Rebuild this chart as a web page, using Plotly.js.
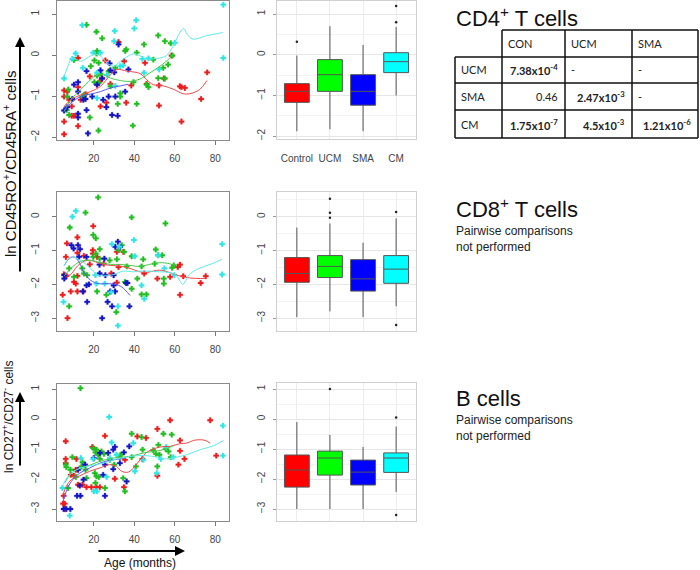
<!DOCTYPE html>
<html>
<head>
<meta charset="utf-8">
<script src="https://cdn.plot.ly/plotly-3.0.1.min.js"></script>
<style>
  html, body { margin: 0; padding: 0; background: #fff; }
  #chart { width: 700px; height: 570px; }
</style>
</head>
<body>
<div id="chart"></div>
<script>
// groups, in the order used everywhere below
var groupNames = ["Control", "UCM", "SMA", "CM"];
var dotColors = ["#ee1c1c", "#1fbf1f", "#1414c8", "#2ee6e6"];
var fitColors = ["#f04848", "#48c848", "#5a5aee", "#60eaea"];
var boxColors = ["#ff0000", "#00ff00", "#0000ff", "#00ffff"];

// ---- CD4+ T cells : age (months) vs ln ratio
var cd4ControlAge = [5.3,5.3,5.3,5.3,6.9,7.8,9.1,9.1,10.2,12.2,12.2,12.2,13.5,15.9,18,21.6,22.9,23.3,24.1,25.7,26.2,28.2,32.2,35,36,38.5,45.3,46.1,52.2,52.2,54.6,58.4,62.5,63.3,63.3,65,73,76];
var cd4ControlVal = [-1.01,-0.86,-1.62,-1.93,-0.89,-1.09,-1.25,-1.48,-1.48,-1.73,-0.78,-0.07,-1.09,-0.95,-0.52,-0.72,-0.64,-1.25,-0.56,-0.13,-1.16,-0.7,0.32,-0.15,-1.16,-0.74,-0.19,-0.7,-0.74,-1.23,-0.57,-0.01,-0.76,-0.78,-1.62,-0.8,-1.07,-0.42];
var cd4UcmAge = [16.4,21.3,24.1,21.6,21.3,20.3,22.4,27.3,23.3,21.6,18.5,20.3,22.4,15.1,14.3,18,22.3,28.2,33.1,35.5,36,41.2,41.2,39.3,39.6,44.8,46.1,47,49.4,51.8,51.8,54.3,55.1,55.1,58,58.9,56.7,31.8,33.1,7.4,6.9,6.6,7.8,10.2,30.6];
var cd4UcmVal = [0.74,0.57,0.41,0.1,0.04,-0.13,-0.19,-0.39,-0.45,-0.5,-0.27,-0.66,-0.68,-0.97,-1.01,-1.52,-1.84,-0.76,-0.93,0.1,0.14,0.06,-1.19,-1.72,-0.66,0.26,-0.72,-0.78,-0.11,0.48,-0.56,-0.31,0.34,-0.57,0.29,-0.01,-0.23,-1.19,-1.01,-0.84,-1.01,-1.34,-1.46,-0.12,-0.31];
var cd4SmaAge = [5.3,6.9,9.4,10.2,12.2,12.2,12.2,12.2,14.8,15.9,16.4,16.4,17.1,19.2,21.6,23.3,24.1,24.6,26.2,27.8,28.2,29,30.1,31.8,32.2,27.3,30.6,37.1,35.5];
var cd4SmaVal = [-1.35,-1.27,-1.07,-0.72,-0.66,-0.89,-1.43,-1.52,-1.09,-1.07,-0.39,-1.34,-1.91,-1.01,-0.72,-0.37,-0.57,-1.09,-1.27,-0.2,-0.37,-1.46,-0.42,-1.48,0.26,-1.01,-1.01,-0.35,-0.89];
var cd4CmAge = [84,84,14.3,30,40.9,40,5.3,11,9.4,14.6,19.7,21.6,30.3,26.5,21.6,30.6,33,44,44.8,52.3,60,23.3,34.5,47];
var cd4CmVal = [1.23,-0.07,0.73,0.34,0.85,0.65,-0.57,0.04,-0.09,-0.31,0.06,-0.43,0.59,-0.48,-1.05,-0.75,-0.27,-0.09,-0.43,-0.35,0.3,0.06,-0.25,-0.08];

// smoothed curves
var cd4ControlFitAge = [5.3,8.6,13.5,18.4,23.3,28.2,31.4,36.3,42.9,46.1,49.4,54.3,59.2,64.1,67.4,72.3,75.9];
var cd4ControlFitVal = [-1.25,-1.09,-0.97,-0.89,-0.76,-0.48,-0.35,-0.39,-0.45,-0.6,-0.72,-0.75,-0.83,-0.94,-0.94,-0.84,-0.62];
var cd4UcmFitAge = [5.3,8.6,13.5,18.4,21.6,24.9,28.2,33.1,38,42.9,47.8,52.7,57.6,59.2];
var cd4UcmFitVal = [-1.38,-1.09,-0.84,-0.6,-0.48,-0.48,-0.56,-0.62,-0.64,-0.58,-0.43,-0.27,-0.07,0.02];
var cd4SmaFitAge = [5.3,8.6,13.5,18.4,23.3,28.2,33.1,37.1];
var cd4SmaFitVal = [-1.34,-1.17,-1.01,-0.95,-0.89,-0.8,-0.75,-0.71];
var cd4CmFitAge = [5.3,6.9,9.4,13.5,16.7,20,23.3,26.5,29.8,33.1,36.3,39.6,42.9,46.1,49.4,52.7,55.9,59.2,62.5,64.4,66.1,69,75.5,83.7];
var cd4CmFitVal = [-0.52,-0.31,-0.07,-0.15,-0.07,0.02,-0.02,-0.19,-0.27,-0.15,-0.04,0.03,-0.02,-0.11,-0.09,-0.07,-0.01,0.22,0.55,0.65,0.51,0.39,0.47,0.55];

// box statistics, in group order
var cd4Q1 = [-1.17, -0.9, -1.24, -0.44];
var cd4Median = [-0.9, -0.49, -0.9, -0.17];
var cd4Q3 = [-0.71, -0.12, -0.49, 0.05];
var cd4Lower = [-1.88, -1.83, -1.88, -1.0];
var cd4Upper = [-0.02, 0.7, 0.24, 0.68];
var cd4OutGroup = ["Control", "CM", "CM"];
var cd4OutVal = [0.32, 0.8, 1.2];

// ---- CD8+ T cells
var cd8ControlAge = [19.7,11.9,6.7,6.2,11.9,15.1,19.5,19.5,21.6,24.9,31.4,34.6,32.2,31.4,18,5.4,6.5,10.2,11.1,11.9,4.6,8.6,11.9,14.8,7,28.6,44.9,51.4,57.7,61.5,62.6,62.6,64.2,72.8,75.3];
var cd8ControlVal = [-0.28,-0.61,-0.79,-1.19,-1.07,-1.16,-0.99,-1.09,-1.19,-1.39,-1.04,-1.04,-1.49,-1.95,-1.41,-1.71,-1.75,-1.93,-1.98,-1.75,-2.31,-2.21,-2.21,-2.21,-3,-1.68,-1.68,-1.83,-1.78,-1.49,-1.42,-2.31,-1.76,-1.96,-1.76];
var cd8UcmAge = [22.1,15.9,8.1,38.7,55.4,19.7,21,22.9,19.7,21,22.9,27.8,31.4,33.8,35,32.2,38.7,36.3,44.4,43.6,50.6,51.8,53.8,50.1,54.6,54.6,58.7,59.5,41.5,38.7,43.6,46,14.3,16.7,15.1,7.8,10.2,7.8,21.6,26.2,31.1,35.4];
var cd8UcmVal = [0.57,0.12,-0.32,-0.02,-0.2,-0.54,-0.64,-0.96,-1.19,-1.09,-1.24,-1.29,-1.26,-0.84,-1.04,-0.99,-1.17,-1.47,-1.26,-1.47,-0.97,-1.14,-1.14,-1.39,-1.83,-1.98,-1.51,-1.44,-1.83,-2.13,-2.3,-2.3,-1.53,-1.73,-1.68,-1.53,-1.78,-2.65,-2.21,-2.31,-2.82,-1.93];
var cd8SmaAge = [31.9,30.6,33,8.9,10,12.2,13.2,16.4,12.7,22.8,25.2,22.9,25.7,29.8,5.4,5.4,16.4,17.6,14.6,30.5,28.1,29.8,35.9,36.6,16.7,26.8,29,37.6,24.1];
var cd8SmaVal = [-0.74,-0.89,-0.89,-0.84,-0.94,-0.84,-0.96,-1.19,-1.19,-1.42,-1.24,-1.68,-1.73,-1.73,-1.73,-1.83,-2.03,-2,-2.21,-2.21,-2.21,-2.03,-1.96,-1.96,-2.52,-2.52,-2.65,-2.65,-3];
var cd8CmAge = [11.1,9.4,83.4,83.4,5,28.9,32.7,39.8,40.3,20.8,25.4,21.3,28.6,31.9,31.9,43.6,44.9,51.7,54.9,59.8];
var cd8CmVal = [0.17,0,-0.81,-1.71,-2.52,-0.81,-0.89,-0.69,-1.17,-1.73,-1.98,-1.98,-2.23,-2.65,-3.22,-2.03,-2.43,-1.14,-1.53,-1.73];

var cd8ControlFitAge = [4.6,7.8,11.9,15.1,18.4,23.3,28.1,33,37.9,42.8,46,49.3,52.5,57.4,62.3,67.2,75.3];
var cd8ControlFitVal = [-1.61,-1.73,-1.46,-1.32,-1.29,-1.39,-1.44,-1.46,-1.53,-1.63,-1.65,-1.61,-1.58,-1.65,-1.75,-1.81,-1.83];
var cd8UcmFitAge = [5.4,8.6,13.5,18.4,23.3,28.1,33,37.9,42.8,47.6,52.5,57.4,59.8];
var cd8UcmFitVal = [-1.75,-1.53,-1.32,-1.29,-1.36,-1.41,-1.41,-1.44,-1.47,-1.41,-1.36,-1.39,-1.44];
var cd8SmaFitAge = [5.4,7.8,10.2,12.7,15.1,18.4,22.4,26.5,30.6,33.8,37.9];
var cd8SmaFitVal = [-1.44,-1.24,-1.19,-1.34,-1.65,-1.88,-1.98,-1.98,-2,-2.08,-2.33];
var cd8CmFitAge = [5.4,8.6,11.9,15.1,18.4,21.6,24.9,29.8,34.6,39.5,42.8,47.6,52.5,57.4,60.7,62.3,63.9,65.5,67.2,72,78.5,83.4];
var cd8CmFitVal = [-1.44,-1.19,-1.24,-1.36,-1.53,-1.71,-1.75,-1.71,-1.61,-1.63,-1.61,-1.61,-1.63,-1.65,-1.73,-1.88,-2,-1.88,-1.71,-1.53,-1.39,-1.26];

var cd8Q1 = [-1.94, -1.8, -2.2, -1.97];
var cd8Median = [-1.68, -1.47, -1.84, -1.55];
var cd8Q3 = [-1.21, -1.15, -1.27, -1.15];
var cd8Lower = [-2.97, -2.8, -2.97, -2.65];
var cd8Upper = [-0.32, -0.2, -0.77, -0.05];
var cd8OutGroup = ["UCM", "UCM", "UCM", "CM", "CM"];
var cd8OutVal = [0.53, 0.12, -0.03, 0.14, -3.2];

// ---- B cells
var bControlAge = [6.1,6.1,6.1,5.1,4.8,5.6,5.6,11.4,11.1,8.6,10.1,12.2,14.4,16.4,18.8,21.3,23,19.3,25.5,30.4,34.9,35.4,41.5,45.8,44,51.4,51.4,57.7,62.6,62.6,64.8,61.8,77.5,80.5];
var bControlVal = [-0.74,-1.33,-1.47,-2.56,-2.82,-2.82,-3,-1.33,-1.69,-1.86,-1.89,-2.19,-2.19,-2.27,-2.27,-2.27,-2.27,-0.93,-0.56,-1.99,-2.27,-1.36,-0.58,-0.63,-1.33,-0.33,-1.89,-0.04,-0.71,-1.06,-1.33,-1.52,-0.04,-1.22];
var bUcmAge = [13.4,9.4,6.1,6.4,8.4,7.3,14.4,13.9,15.9,16.4,19.7,20.8,21.3,22.1,23,20.5,20.8,21.3,22.5,23.8,25,25.5,27.9,30.1,32.9,33.2,34.5,35.4,38.7,38.7,40.8,43.6,44.1,49.4,50.7,51.9,52.4,54.4,55.5,56.9,58.5,58,51.4,11.1];
var bUcmVal = [1.03,-1.27,-1.52,-1.6,-1.69,-2.3,-1.44,-1.58,-1.69,-1.97,-0.97,-1.11,-1.02,-1.19,-1.33,-1.8,-2.13,-1.91,-1.93,-1.08,-1.16,-2.3,-1.36,-1.52,-1.27,-1.19,-1.97,-2.41,-0.49,-1.27,-1.58,-0.6,-1.02,-1.04,-1.16,-0.86,-1.19,-0.49,-1,-1.08,-0.52,-1.27,-1.58,-1.93];
var bSmaAge = [5.1,6.4,8.4,11.7,13.4,12.2,13.1,14.9,15.7,23,24.6,25.5,27.1,29.6,29.6,30.4,32.9,34.9,36.2,37.5,25.5,20];
var bSmaVal = [-3,-3,-3,-2.56,-2.56,-1.69,-2.22,-2.02,-1.52,-1.13,-1.86,-1.52,-1.13,-1.67,-1.02,-0.93,-1.47,-1.11,-2.08,-0.91,-2.56,-1.3];
var bCmAge = [27.6,83.8,83.8,4.5,8.1,13.6,19.7,20,26.3,28.8,27.9,31.2,39.5,40.3,44.5,51.1,55.7,59.3,53.1,21.5];
var bCmVal = [0.07,-0.22,-1.22,-2.3,-3.22,-1.3,-1.33,-2.41,-1.93,-0.78,-1.3,-1.19,-0.8,-1.74,-1.36,-1.8,-0.93,-1.27,-1.33,-2.41];

var bControlFitAge = [4.8,6.4,8.9,13.1,18,23,27.9,31.2,33.7,37,40.3,42.8,46.1,49.4,52.7,57.7,62.6,66,69.3,72.6,75,77.5];
var bControlFitVal = [-2.52,-2.24,-2.02,-1.89,-1.74,-1.63,-1.52,-1.58,-1.74,-1.77,-1.58,-1.36,-1.11,-1,-0.93,-0.91,-0.82,-0.8,-0.71,-0.69,-0.71,-0.8];
var bUcmFitAge = [5.6,8.1,11.4,16.4,23,29.6,34.5,39.5,44.5,49.4,54.4,59.3];
var bUcmFitVal = [-2.13,-1.86,-1.69,-1.58,-1.41,-1.3,-1.27,-1.22,-1.13,-1.08,-1.02,-0.89];
var bSmaFitAge = [4.8,6.4,8.9,13.1,18,23,27.9,32.9,35.4];
var bSmaFitVal = [-2.74,-2.41,-2.08,-1.8,-1.63,-1.47,-1.38,-1.33,-1.3];
var bCmFitAge = [4.8,7.3,11.4,16.4,21.3,26.3,31.2,36.2,41.2,46.1,51.1,56,61,65.9,72.6,79.2,84.1];
var bCmFitVal = [-2.19,-1.91,-1.69,-1.58,-1.52,-1.44,-1.33,-1.27,-1.22,-1.22,-1.27,-1.33,-1.27,-1.19,-1.02,-0.89,-0.71];

var bQ1 = [-2.27, -1.87, -2.2, -1.78];
var bMedian = [-1.7, -1.3, -1.77, -1.3];
var bQ3 = [-1.2, -1.07, -1.37, -1.13];
var bLower = [-3, -3, -3, -2.43];
var bUpper = [-0.1, -0.53, -0.93, -0.25];
var bOutGroup = ["UCM", "CM", "CM"];
var bOutVal = [1.0, 0.05, -3.2];

// ---- pairwise p values (CD4 only)
var tableCols = ["CON", "UCM", "SMA"];
var tableRows = ["UCM", "SMA", "CM"];
var pValues = [
  ["7.38x10<sup>-4</sup>", "-", "-"],
  ["0.46", "2.47x10<sup>-3</sup>", "-"],
  ["1.75x10<sup>-7</sup>", "4.5x10<sup>-3</sup>", "1.21x10<sup>-6</sup>"]
];
var pBold = [[true, false, false], [false, true, false], [true, true, true]];


var W = 700, H = 570;
function px(x) { return x / W; }
function py(y) { return 1 - y / H; }

var traces = [];

function addScatter(n, ages, vals, fitAges, fitVals) {
  for (var g = 0; g < 4; g++) {
    traces.push({
      type: "scatter", mode: "markers", x: ages[g], y: vals[g],
      xaxis: "x" + n, yaxis: "y" + n,
      marker: { symbol: "cross", size: 4.5, color: dotColors[g], line: { width: 0.3, color: dotColors[g] } },
      hoverinfo: "skip"
    });
  }
  for (var g = 0; g < 4; g++) {
    traces.push({
      type: "scatter", mode: "lines", x: fitAges[g], y: fitVals[g],
      xaxis: "x" + n, yaxis: "y" + n,
      line: { color: fitColors[g], width: 1, shape: "spline" },
      hoverinfo: "skip"
    });
  }
}

function addBoxes(n, q1, med, q3, lo, hi, outGroup, outVal) {
  for (var g = 0; g < 4; g++) {
    traces.push({
      type: "box", x: [groupNames[g]],
      q1: [q1[g]], median: [med[g]], q3: [q3[g]],
      lowerfence: [lo[g]], upperfence: [hi[g]],
      xaxis: "x" + n, yaxis: "y" + n,
      fillcolor: boxColors[g], line: { color: "#555", width: 1 },
      width: 0.75, whiskerwidth: 0, hoverinfo: "skip"
    });
  }
  traces.push({
    type: "scatter", mode: "markers", x: outGroup, y: outVal,
    xaxis: "x" + n, yaxis: "y" + n,
    marker: { size: 2.5, color: "#222" }, hoverinfo: "skip"
  });
}

addScatter("", [cd4ControlAge, cd4UcmAge, cd4SmaAge, cd4CmAge], [cd4ControlVal, cd4UcmVal, cd4SmaVal, cd4CmVal],
  [cd4ControlFitAge, cd4UcmFitAge, cd4SmaFitAge, cd4CmFitAge], [cd4ControlFitVal, cd4UcmFitVal, cd4SmaFitVal, cd4CmFitVal]);
addBoxes("2", cd4Q1, cd4Median, cd4Q3, cd4Lower, cd4Upper, cd4OutGroup, cd4OutVal);
addScatter("3", [cd8ControlAge, cd8UcmAge, cd8SmaAge, cd8CmAge], [cd8ControlVal, cd8UcmVal, cd8SmaVal, cd8CmVal],
  [cd8ControlFitAge, cd8UcmFitAge, cd8SmaFitAge, cd8CmFitAge], [cd8ControlFitVal, cd8UcmFitVal, cd8SmaFitVal, cd8CmFitVal]);
addBoxes("4", cd8Q1, cd8Median, cd8Q3, cd8Lower, cd8Upper, cd8OutGroup, cd8OutVal);
addScatter("5", [bControlAge, bUcmAge, bSmaAge, bCmAge], [bControlVal, bUcmVal, bSmaVal, bCmVal],
  [bControlFitAge, bUcmFitAge, bSmaFitAge, bCmFitAge], [bControlFitVal, bUcmFitVal, bSmaFitVal, bCmFitVal]);
addBoxes("6", bQ1, bMedian, bQ3, bLower, bUpper, bOutGroup, bOutVal);


var tickFont = { family: "Liberation Sans, Arial, sans-serif", size: 10, color: "#444" };

function scatterX(anchor) {
  return {
    domain: [px(57), px(229)], range: [1.8, 86.8], anchor: anchor,
    tickvals: [20, 40, 60, 80], ticks: "outside", ticklen: 4, tickcolor: "#777",
    showline: true, mirror: true, linecolor: "#8a8a8a", linewidth: 1,
    showgrid: false, zeroline: false, tickfont: tickFont, ticklabelstandoff: 5
  };
}
function scatterY(anchor, top, bottom, range) {
  return {
    domain: [py(bottom), py(top)], range: range, anchor: anchor, dtick: 1,
    ticks: "outside", ticklen: 4, tickcolor: "#777", tickangle: -90,
    showline: true, mirror: true, linecolor: "#8a8a8a", linewidth: 1,
    showgrid: false, zeroline: false, tickfont: tickFont, ticklabelstandoff: 9
  };
}
function boxX(anchor, labels) {
  return {
    domain: [px(277), px(416)], range: [-0.6, 3.6], anchor: anchor,
    type: "category", categoryarray: groupNames, categoryorder: "array",
    showline: true, mirror: true, linecolor: "#d0d0d0", linewidth: 1,
    showgrid: true, gridcolor: "#ececec", zeroline: false, ticks: "",
    showticklabels: labels, tickfont: tickFont, ticklabelstandoff: 10
  };
}
function boxY(anchor, top, bottom, range) {
  return {
    domain: [py(bottom), py(top)], range: range, anchor: anchor, dtick: 1,
    ticks: "outside", ticklen: 3, tickcolor: "#999", tickangle: -90,
    showline: true, mirror: true, linecolor: "#d0d0d0", linewidth: 1,
    showgrid: true, gridcolor: "#e6e6e6", zeroline: false,
    minor: { dtick: 0.5, showgrid: true, gridcolor: "#f3f3f3" },
    tickfont: tickFont, ticklabelstandoff: 4
  };
}

var labelFont = { family: "Liberation Sans, Arial, sans-serif", size: 12, color: "#111" };
var bigLabelFont = { family: "Liberation Sans, Arial, sans-serif", size: 15, color: "#111" };
var titleFont = { family: "Liberation Sans, Arial, sans-serif", size: 22, color: "#111" };
var noteFont = { family: "Liberation Sans, Arial, sans-serif", size: 12, color: "#222" };
var cellFont = { family: "Lato, Open Sans, sans-serif", size: 11, color: "#222" };

var annotations = [
  { text: "ln CD45RO<sup>+</sup>/CD45RA<sup>+</sup> cells", textangle: -90, x: px(9), y: py(164), font: bigLabelFont },
  { text: "ln CD27<sup>+</sup>/CD27<sup>-</sup> cells", textangle: -90, x: px(8), y: py(417), font: labelFont },
  { text: "Age (months)", x: px(140), y: py(563), font: labelFont },
  { text: "", x: px(20), y: py(37), ax: 0, ay: 236, showarrow: true, arrowhead: 2, arrowsize: 1, arrowwidth: 2, arrowcolor: "#000" },
  { text: "", x: px(20), y: py(392), ax: 0, ay: 75, showarrow: true, arrowhead: 2, arrowsize: 1, arrowwidth: 2, arrowcolor: "#000" },
  { text: "", x: px(185), y: py(551), ax: -88, ay: 0, showarrow: true, arrowhead: 2, arrowsize: 1, arrowwidth: 2, arrowcolor: "#000" },
  { text: "CD4<sup>+</sup> T cells", x: px(454), y: py(17), xanchor: "left", font: titleFont },
  { text: "CD8<sup>+</sup> T cells", x: px(454), y: py(208), xanchor: "left", font: titleFont },
  { text: "Pairwise comparisons<br>not performed", x: px(454), y: py(222), xanchor: "left", yanchor: "top", align: "left", font: noteFont },
  { text: "B cells", x: px(454), y: py(398), xanchor: "left", font: titleFont },
  { text: "Pairwise comparisons<br>not performed", x: px(454), y: py(411), xanchor: "left", yanchor: "top", align: "left", font: noteFont }
];

// table grid
var colEdges = [455, 502, 565, 632, 698];
var rowEdges = [30, 57, 83, 110, 138];
var shapes = [];
var tableLine = { color: "#111", width: 1.5 };
for (var i = 0; i < rowEdges.length; i++) {
  shapes.push({ type: "line", xref: "paper", yref: "paper", line: tableLine,
    x0: px(i === 0 ? colEdges[1] : colEdges[0]), x1: px(colEdges[4]), y0: py(rowEdges[i]), y1: py(rowEdges[i]) });
}
for (var j = 0; j < colEdges.length; j++) {
  shapes.push({ type: "line", xref: "paper", yref: "paper", line: tableLine,
    x0: px(colEdges[j]), x1: px(colEdges[j]), y0: py(j === 0 ? rowEdges[1] : rowEdges[0]), y1: py(rowEdges[4]) });
}
for (var c = 0; c < tableCols.length; c++) {
  annotations.push({ text: tableCols[c], x: px(colEdges[c + 1] + 4), y: py((rowEdges[0] + rowEdges[1]) / 2),
    xanchor: "left", font: cellFont });
}
for (var r = 0; r < tableRows.length; r++) {
  var yMid = py((rowEdges[r + 1] + rowEdges[r + 2]) / 2);
  annotations.push({ text: tableRows[r], x: px(colEdges[0] + 4), y: yMid, xanchor: "left", font: cellFont });
  for (var c = 0; c < tableCols.length; c++) {
    var v = pValues[r][c];
    var dash = v === "-";
    annotations.push({
      text: pBold[r][c] ? "<b>" + v + "</b>" : v,
      x: dash ? px(colEdges[c + 1] + 4) : px(colEdges[c + 2] - 5), y: yMid,
      xanchor: dash ? "left" : "right", font: cellFont
    });
  }
}
annotations.forEach(function (a) {
  a.xref = "paper"; a.yref = "paper";
  if (!a.xanchor) a.xanchor = "center";
  if (!a.yanchor) a.yanchor = "middle";
  if (!a.showarrow) a.showarrow = false;
});

var layout = {
  width: W, height: H,
  margin: { l: 0, r: 0, t: 0, b: 0 },
  paper_bgcolor: "#fff", plot_bgcolor: "#fff",
  showlegend: false,
  font: { family: "Liberation Sans, Arial, sans-serif" },
  xaxis: scatterX("y"), yaxis: scatterY("x", 1, 140, [-2.07, 1.32]),
  xaxis2: boxX("y2", true), yaxis2: boxY("x2", 1, 139, [-2.07, 1.32]),
  xaxis3: scatterX("y3"), yaxis3: scatterY("x3", 192, 331, [-3.38, 0.73]),
  xaxis4: boxX("y4", false), yaxis4: boxY("x4", 192, 331, [-3.38, 0.73]),
  xaxis5: scatterX("y5"), yaxis5: scatterY("x5", 384, 521, [-3.4, 1.17]),
  xaxis6: boxX("y6", false), yaxis6: boxY("x6", 383, 521, [-3.4, 1.2]),
  annotations: annotations,
  shapes: shapes
};

Plotly.newPlot("chart", traces, layout, { displayModeBar: false, staticPlot: true });
</script>
</body>
</html>
